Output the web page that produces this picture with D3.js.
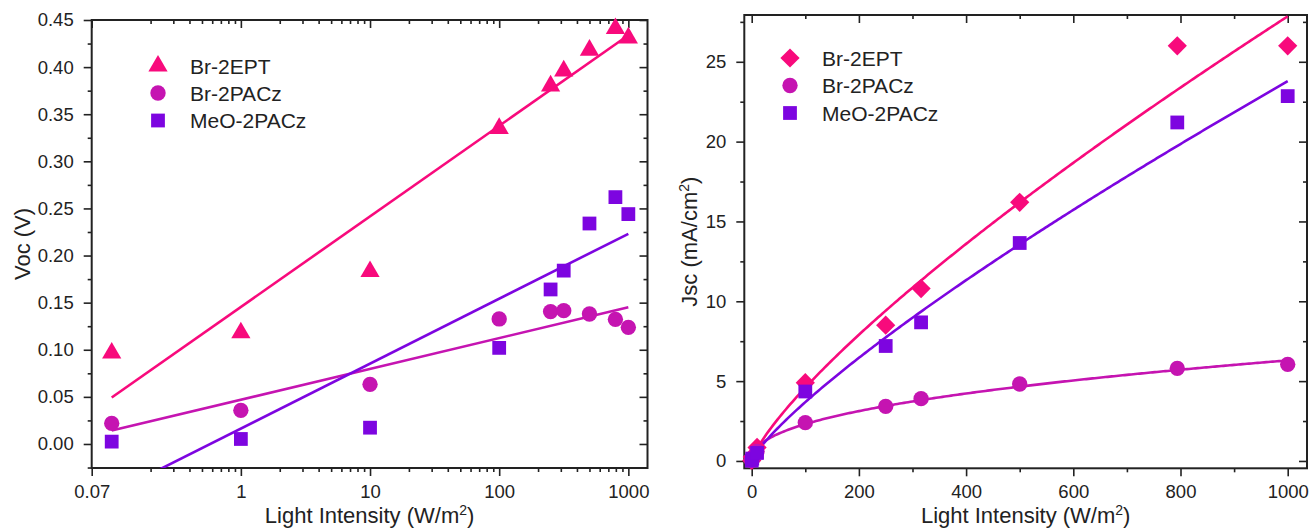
<!DOCTYPE html>
<html>
<head>
<meta charset="utf-8">
<script src="https://cdn.jsdelivr.net/npm/d3@7"></script>
<style>
  html, body { margin: 0; padding: 0; background: #fff; }
  svg { display: block; font-family: "Liberation Sans", Arial, sans-serif; }
</style>
</head>
<body>
<svg id="chart" width="1310" height="531"></svg>
<script>
// light intensity (W/m2), shared by both panels
var intensity = [0.1, 1, 10, 100, 250, 316, 500, 794, 1000];

// open circuit voltage (V)
var vocBr2EPT   = [0.0965, 0.118, 0.183, 0.335, 0.380, 0.396, 0.418, 0.441, 0.431];
var vocBr2PACz  = [0.0219, 0.0357, 0.0633, 0.1327, 0.1405, 0.1415, 0.138, 0.1323, 0.1238];
var vocMeO2PACz = [0.0025, 0.0053, 0.0173, 0.102, 0.164, 0.184, 0.234, 0.262, 0.244];

// short circuit current (mA/cm2)
var jscBr2EPT   = [0.03, 0.25, 0.85, 4.9, 8.5, 10.8, 16.2, 26.0, 26.0];
var jscBr2PACz  = [0.02, 0.12, 0.6, 2.4, 3.42, 3.9, 4.82, 5.8, 6.05];
var jscMeO2PACz = [0.02, 0.15, 0.5, 4.35, 7.2, 8.68, 13.65, 21.2, 22.85];

var seriesNames = ['Br-2EPT', 'Br-2PACz', 'MeO-2PACz'];

// tick labels / positions
var vocTicks = [0, 0.05, 0.1, 0.15, 0.2, 0.25, 0.3, 0.35, 0.4, 0.45];
var logMajor = [0.07, 1, 10, 100, 1000];
var jscTicks = [0, 5, 10, 15, 20, 25];
var linTicks = [0, 200, 400, 600, 800, 1000];

var colors = ['#f80a7c', '#c514b1', '#7d05e0'];

var svg = d3.select('#chart');

// least squares: y = a + b*log10(x)
function fitLogLine(xs, ys) {
	var lx = xs.map(function (v) { return Math.log10(v); });
	var mx = d3.mean(lx), my = d3.mean(ys);
	var sxx = 0, sxy = 0;
	lx.forEach(function (v, i) { sxx += (v - mx) * (v - mx); sxy += (v - mx) * (ys[i] - my); });
	var b = sxy / sxx;
	var a = my - b * mx;
	return function (x) { return a + b * Math.log10(x); };
}

// least squares: y = a * x^b (search on b, a closed form)
function fitPower(xs, ys) {
	var best = null;
	for (var b = 0.1; b <= 1.5; b += 0.0005) {
		var sxy = 0, sxx = 0;
		xs.forEach(function (x, i) { var p = Math.pow(x, b); sxy += ys[i] * p; sxx += p * p; });
		var a = sxy / sxx;
		var err = 0;
		xs.forEach(function (x, i) { var d = ys[i] - a * Math.pow(x, b); err += d * d; });
		if (!best || err < best.err) best = { a: a, b: b, err: err };
	}
	return function (x) { return best.a * Math.pow(x, best.b); };
}

function marker(shape, size) {
	if (shape == 'diamond') return d3.symbol().type(d3.symbolSquare).size(size)();
	return d3.symbol().type(shape).size(size)();
}

function drawPanel(cfg) {
	var g = svg.append('g');
	var x = cfg.x, y = cfg.y;
	var x0 = x.range()[0], x1 = x.range()[1], y0 = y.range()[1], y1 = y.range()[0];

	var clipId = 'clip-' + cfg.id;
	svg.append('clipPath').attr('id', clipId)
		.append('rect').attr('x', x0).attr('y', y0).attr('width', x1 - x0).attr('height', y1 - y0);

	// axes: bottom/left outward with labels, top/right inward
	function addAxis(axis, tx, ty, labels) {
		var a = g.append('g').attr('transform', 'translate(' + tx + ',' + ty + ')').call(axis);
		a.select('.domain').remove();
		a.selectAll('line').attr('stroke', '#222').attr('stroke-width', 1.6);
		if (!labels) a.selectAll('text').remove();
		else a.selectAll('text').attr('fill', '#222').style('font-size', '18.5px').style('font-family', '"Liberation Sans", Arial, sans-serif');
		return a;
	}
	addAxis(d3.axisBottom(x).tickValues(cfg.xMajor).tickSize(8).tickPadding(9).tickFormat(cfg.xFormat), 0, y1, true);
	addAxis(d3.axisBottom(x).tickValues(cfg.xMinor).tickSize(4), 0, y1, false);
	addAxis(d3.axisTop(x).tickValues(cfg.xMajor).tickSize(-8), 0, y0, false);
	addAxis(d3.axisTop(x).tickValues(cfg.xMinor).tickSize(-4), 0, y0, false);
	addAxis(d3.axisLeft(y).tickValues(cfg.yMajor).tickSize(8).tickPadding(10).tickFormat(cfg.yFormat), x0, 0, true);
	addAxis(d3.axisLeft(y).tickValues(cfg.yMinor).tickSize(4), x0, 0, false);
	addAxis(d3.axisRight(y).tickValues(cfg.yMajor).tickSize(-8), x1, 0, false);
	addAxis(d3.axisRight(y).tickValues(cfg.yMinor).tickSize(-4), x1, 0, false);

	g.append('rect').attr('x', x0).attr('y', y0).attr('width', x1 - x0).attr('height', y1 - y0)
		.attr('fill', 'none').attr('stroke', '#222').attr('stroke-width', 2);

	// fitted curves
	var line = d3.line().x(function (d) { return x(d[0]); }).y(function (d) { return y(d[1]); });
	cfg.series.forEach(function (s, i) {
		var pts = cfg.samples.map(function (v) { return [v, s.fit(v)]; });
		g.append('path').attr('d', line(pts)).attr('fill', 'none')
			.attr('stroke', colors[i]).attr('stroke-width', 2.6)
			.attr('clip-path', 'url(#' + clipId + ')');
	});

	// markers
	cfg.series.forEach(function (s, i) {
		g.selectAll(null).data(intensity).enter().append('path')
			.attr('d', marker(cfg.shapes[i], cfg.sizes[i]))
			.attr('transform', function (d, j) {
				return 'translate(' + x(d) + ',' + y(s.values[j]) + ')' + (cfg.shapes[i] == 'diamond' ? ' rotate(45)' : '');
			})
			.attr('fill', colors[i]);
	});

	// legend
	seriesNames.forEach(function (name, i) {
		var ly = cfg.legend.y[i];
		g.append('path').attr('d', marker(cfg.shapes[i], cfg.sizes[i]))
			.attr('transform', 'translate(' + cfg.legend.x + ',' + ly + ')' + (cfg.shapes[i] == 'diamond' ? ' rotate(45)' : ''))
			.attr('fill', colors[i]);
		g.append('text').attr('x', cfg.legend.x + 32).attr('y', ly + 7.5)
			.attr('fill', '#222').style('font-size', '21px').text(name);
	});

	// axis titles (superscript shifted by fixed px, then back)
	var xt = g.append('text').attr('x', (x0 + x1) / 2).attr('y', 523)
		.attr('text-anchor', 'middle').attr('fill', '#222').style('font-size', '22px')
		.text('Light Intensity (W/m');
	xt.append('tspan').attr('dy', -8).style('font-size', '14px').text('2');
	xt.append('tspan').attr('dy', 8).text(')');

	var yt = g.append('text').attr('transform', 'translate(' + cfg.yTitleX + ',' + (y0 + y1) / 2 + ') rotate(-90)')
		.attr('text-anchor', 'middle').attr('fill', '#222').style('font-size', '22px')
		.text(cfg.yTitle[0]);
	if (cfg.yTitle.length > 1) {
		yt.append('tspan').attr('dy', -8).style('font-size', '14px').text(cfg.yTitle[1]);
		yt.append('tspan').attr('dy', 8).text(cfg.yTitle[2]);
	}
}

// left panel: Voc vs log intensity
var logMinor = [];
[0.1, 1, 10, 100].forEach(function (dec) {
	for (var k = 2; k <= 9; k++) logMinor.push(dec * k);
});
var vocMinor = d3.range(-0.025, 0.45, 0.05).map(function (v) { return +v.toFixed(3); });

drawPanel({
	id: 'voc',
	x: d3.scaleLog().domain([0.07, 1407]).range([91.7, 647.5]),
	y: d3.scaleLinear().domain([-0.0255, 0.45]).range([468, 20]),
	xMajor: logMajor, xMinor: logMinor,
	yMajor: vocTicks, yMinor: vocMinor,
	xFormat: function (d) { return d == 0.07 ? '0.07' : d3.format('d')(d); },
	yFormat: d3.format('.2f'),
	series: [
		{ values: vocBr2EPT, fit: fitLogLine(intensity, vocBr2EPT) },
		{ values: vocBr2PACz, fit: fitLogLine(intensity, vocBr2PACz) },
		{ values: vocMeO2PACz, fit: fitLogLine(intensity, vocMeO2PACz) }
	],
	samples: [0.1, 1000],
	shapes: [d3.symbolTriangle, d3.symbolCircle, d3.symbolSquare],
	sizes: [160, 185, 190],
	legend: { x: 158, y: [66, 93, 120.5] },
	yTitle: ['Voc (V)'],
	yTitleX: 30
});

// right panel: Jsc vs linear intensity
drawPanel({
	id: 'jsc',
	x: d3.scaleLinear().domain([-13.8, 1036]).range([744.3, 1307]),
	y: d3.scaleLinear().domain([-0.46, 27.93]).range([468.3, 15]),
	xMajor: linTicks, xMinor: d3.range(100, 1000, 200),
	yMajor: jscTicks, yMinor: d3.range(2.5, 28, 5),
	xFormat: d3.format('d'),
	yFormat: d3.format('d'),
	series: [
		{ values: jscBr2EPT, fit: fitPower(intensity, jscBr2EPT) },
		{ values: jscBr2PACz, fit: fitPower(intensity, jscBr2PACz) },
		{ values: jscMeO2PACz, fit: fitPower(intensity, jscMeO2PACz) }
	],
	samples: [0].concat(d3.range(0.25, 4, 0.25), d3.range(4, 1001, 4)),
	shapes: ['diamond', d3.symbolCircle, d3.symbolSquare],
	sizes: [185, 185, 190],
	legend: { x: 790, y: [58, 85.5, 113] },
	yTitle: ['Jsc (mA/cm', '2', ')'],
	yTitleX: 697
});
</script>
</body>
</html>
